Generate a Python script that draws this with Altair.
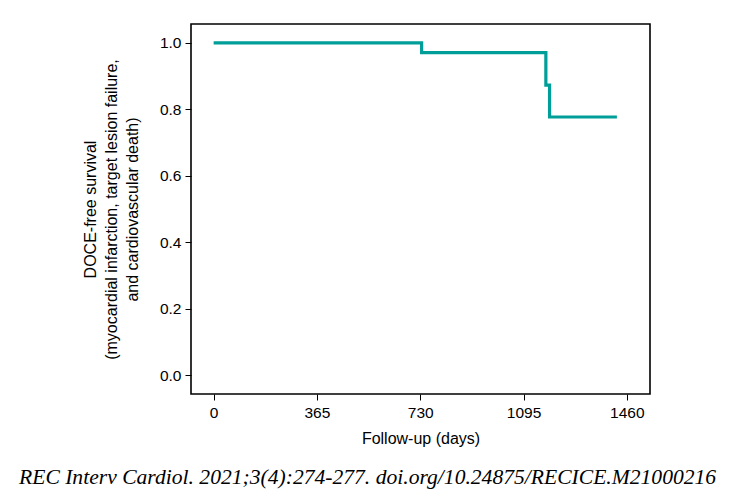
import altair as alt
import pandas as pd

# Kaplan-Meier step data
days = [0, 735, 1174, 1187, 1425]
survival = [1.0, 0.971, 0.873, 0.777, 0.777]

x_ticks = [0, 365, 730, 1095, 1460]
y_ticks = [0.0, 0.2, 0.4, 0.6, 0.8, 1.0]

y_title = ["DOCE-free survival",
           "(myocardial infarction, target lesion failure,",
           "and cardiovascular death)"]
x_title = "Follow-up (days)"
caption = "REC Interv Cardiol. 2021;3(4):274-277. doi.org/10.24875/RECICE.M21000216"

df = pd.DataFrame({"days": days, "survival": survival})
cap_df = pd.DataFrame({"t": [caption]})

FONT = "Liberation Sans"

line = alt.Chart(df).mark_line(
    interpolate="step-after", color="#009e98", strokeWidth=3.2
).encode(
    x=alt.X("days:Q",
            scale=alt.Scale(domain=[-80, 1542], nice=False, zero=False),
            axis=alt.Axis(values=x_ticks, format="d", title=x_title, grid=False,
                          domain=False, tickColor="black", tickSize=6,
                          labelFontSize=15.5, titleFontSize=16,
                          labelColor="black", titleColor="black",
                          labelFont=FONT, titleFont=FONT,
                          titleFontWeight="normal", labelPadding=5,
                          titlePadding=10)),
    y=alt.Y("survival:Q",
            scale=alt.Scale(domain=[-0.057, 1.057], nice=False, zero=False),
            axis=alt.Axis(values=y_ticks, format=".1f", title=y_title,
                          grid=False, domain=False, tickColor="black",
                          tickSize=6, labelFontSize=15.5, titleFontSize=16,
                          labelColor="black", titleColor="black",
                          labelFont=FONT, titleFont=FONT,
                          titleFontWeight="normal", labelPadding=4,
                          titlePadding=19, titleLineHeight=21)),
)

cap = alt.Chart(cap_df).mark_text(
    align="left", baseline="alphabetic", font="Liberation Serif",
    fontStyle="italic", fontSize=21.6, color="black"
).encode(
    x=alt.value(-172), y=alt.value(460), text="t:N"
)

chart = alt.layer(line, cap).properties(
    width=459, height=370,
    autosize=alt.AutoSizeParams(type="none"),
    padding={"left": 183, "top": 16, "right": 78, "bottom": 95},
).configure(
    background="white",
    view=alt.ViewConfig(stroke="black", strokeWidth=1.6),
)

chart.save("out.html", embed_options={"renderer": "svg", "actions": False})
